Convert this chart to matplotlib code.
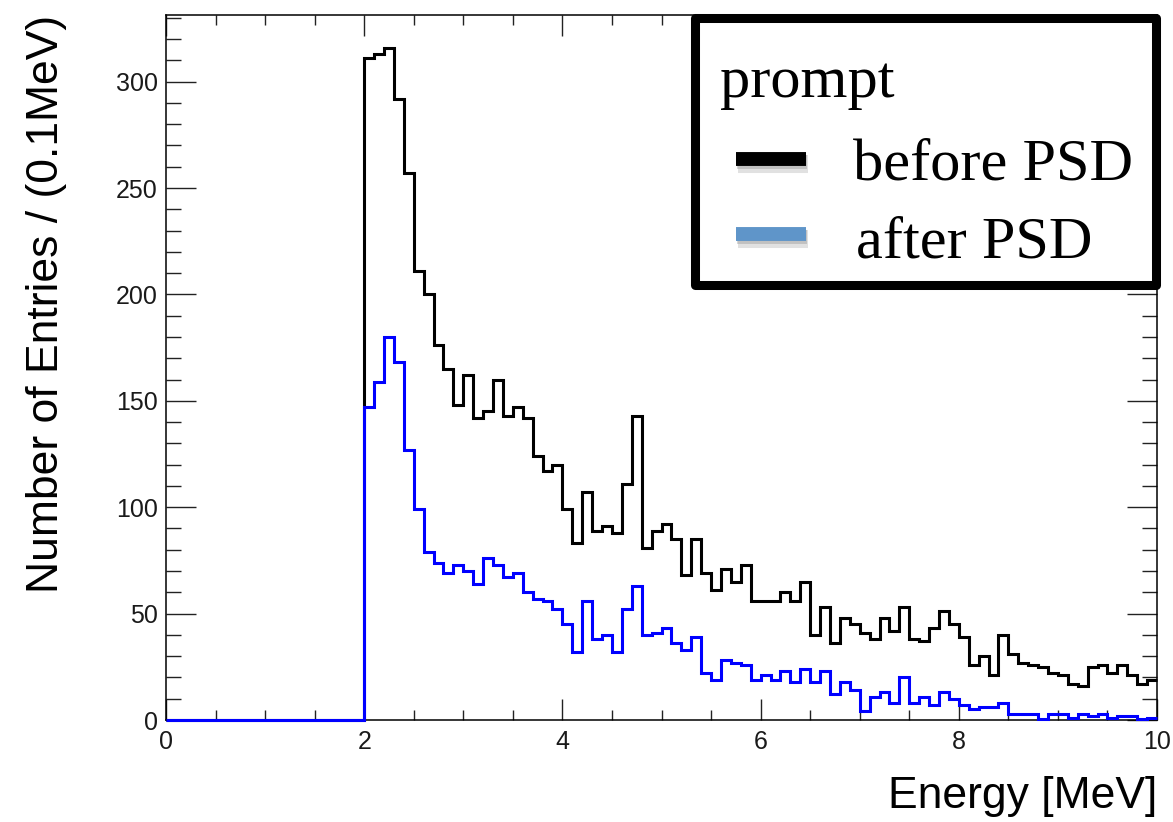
import matplotlib
matplotlib.use("Agg")
import matplotlib.pyplot as plt
import matplotlib.patheffects as pe
import numpy as np
from matplotlib.lines import Line2D
from matplotlib.patches import Rectangle
from matplotlib.ticker import MultipleLocator

# histogram binning: 0.1 MeV bins from 0 to 10 MeV
bin_edges = np.round(np.arange(0, 10.05, 0.1), 2)
n_empty = 20  # bins below 2 MeV are empty

# counts per bin from 2.0 MeV to 10.0 MeV
before_psd = [
    311, 313, 316, 292, 257, 211, 200, 176, 165, 148,
    162, 142, 145, 160, 143, 147, 142, 124, 117, 120,
    99, 83, 107, 89, 91, 88, 111, 143, 81, 89,
    92, 85, 68, 85, 69, 61, 71, 65, 73, 56,
    56, 56, 60, 56, 65, 40, 53, 36, 48, 45,
    41, 38, 48, 42, 53, 38, 37, 43, 51, 45,
    39, 26, 30, 21, 40, 31, 27, 26, 25, 22,
    21, 17, 16, 25, 26, 22, 26, 21, 17, 19,
]
after_psd = [
    147, 159, 180, 168, 127, 99, 79, 74, 69, 73,
    70, 64, 76, 73, 67, 69, 60, 57, 56, 52,
    45, 32, 56, 38, 40, 32, 52, 63, 40, 41,
    43, 36, 33, 39, 22, 19, 28, 27, 26, 19,
    21, 19, 23, 18, 24, 18, 23, 12, 18, 14,
    4, 11, 13, 8, 20, 8, 11, 7, 13, 10,
    7, 5, 6, 6, 8, 3, 3, 3, 0.5, 3,
    3, 1, 3, 2, 3, 1, 2, 2, 0.5, 1,
]

legend_title = "prompt"
series_labels = ["before PSD", "after PSD"]
legend_colors = ["black", "#5f95c9"]

before_counts = np.concatenate([np.zeros(n_empty), before_psd])
after_counts = np.concatenate([np.zeros(n_empty), after_psd])

W, H = 1173, 822
fig = plt.figure(figsize=(W / 100, H / 100), dpi=100)
ax = fig.add_axes([166 / W, 1 - 720 / H, (1157 - 166) / W, (720 - 15) / H])

sans = ["Liberation Sans", "DejaVu Sans"]
serif = ["Liberation Serif", "DejaVu Serif"]

ax.stairs(before_counts, bin_edges, baseline=None, color="black", lw=2.2,
          zorder=3, clip_on=False)
ax.stairs(after_counts, bin_edges, baseline=None, color="#0000ff", lw=2.2,
          zorder=4, clip_on=False)

ax.set_xlim(0, 10)
ax.set_ylim(0, 331.3)

ax.xaxis.set_major_locator(MultipleLocator(2))
ax.xaxis.set_minor_locator(MultipleLocator(0.5))
ax.yaxis.set_major_locator(MultipleLocator(50))
ax.yaxis.set_minor_locator(MultipleLocator(10))

ax.tick_params(axis="both", which="both", direction="in", top=True, right=True,
               width=1.0, color="#222222")
ax.tick_params(axis="x", which="major", length=15, pad=7)
ax.tick_params(axis="x", which="minor", length=7.5)
ax.tick_params(axis="y", which="major", length=21.5, pad=6)
ax.tick_params(axis="y", which="minor", length=10.8)
for spine in ax.spines.values():
    spine.set_linewidth(1.1)

for lab in ax.get_xticklabels() + ax.get_yticklabels():
    lab.set_family(sans)
    lab.set_fontsize(18)
    lab.set_color("#1a1a1a")

ax.set_xlabel("Energy [MeV]", family=sans, fontsize=32, loc="right")
ax.xaxis.set_label_coords(1.0, -0.08)
ax.set_ylabel("Number of Entries / (0.1MeV)", family=sans, fontsize=32, loc="top")
ax.yaxis.set_label_coords(-0.10, 1.0)

# legend drawn by hand to mimic the boxed legend of the original
box = Rectangle((695 / W, 1 - 285 / H), (1156 - 695) / W, (285 - 18) / H,
                transform=fig.transFigure, facecolor="white", edgecolor="black",
                lw=6.5, joinstyle="round", zorder=10)
fig.add_artist(box)

fig.text(720 / W, 1 - 97 / H, legend_title, family=serif, fontsize=43.5,
         va="baseline", ha="left", zorder=11)

shadow = [
    pe.SimpleLineShadow(offset=(1.5, -3.5), shadow_color="#888888", alpha=0.25, linewidth=13),
    pe.SimpleLineShadow(offset=(1.0, -2.0), shadow_color="#777777", alpha=0.3),
    pe.Normal(),
]
handle_y = [159, 234]
text_base = [180, 257]
text_x = [853, 856]
for label, color, hy, ty, tx in zip(series_labels, legend_colors, handle_y, text_base, text_x):
    line = Line2D([736 / W, 806 / W], [1 - hy / H, 1 - hy / H], transform=fig.transFigure,
                  color=color, lw=10, solid_capstyle="butt", zorder=11)
    line.set_path_effects(shadow)
    fig.add_artist(line)
    fig.text(tx / W, 1 - ty / H, label, family=serif, fontsize=43.5,
             va="baseline", ha="left", zorder=11)

fig.savefig("out.png", dpi=100)
